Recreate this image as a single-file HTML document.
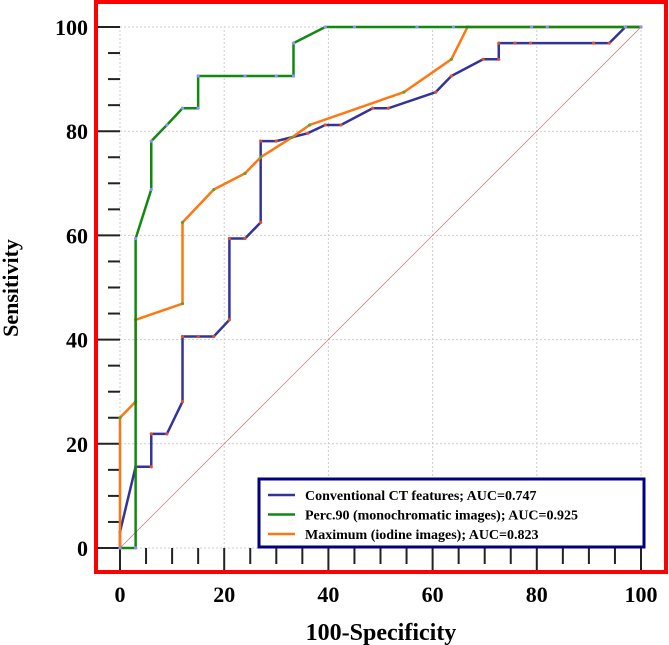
<!DOCTYPE html>
<html><head><meta charset="utf-8"><style>
body{margin:0;background:#fff}
svg{display:block;font-family:"Liberation Serif",serif;font-weight:bold}
</style></head><body>
<svg id="c" width="669" height="645"></svg>
<script>
const xTicks=[0,20,40,60,80,100];
const yTicks=[0,20,40,60,80,100];
const blueX=[0,0,3,6,6,9,12,12,15,18,21,21,24,27,27,30,36,39.4,42.4,48.5,51.5,60.6,63.6,69.7,72.7,72.7,75.8,78.8,90.9,93.9,97,100];
const blueY=[0,3.1,15.6,15.6,21.9,21.9,28.1,40.6,40.6,40.6,43.8,59.4,59.4,62.5,78.1,78.1,79.6,81.2,81.2,84.4,84.4,87.5,90.6,93.8,93.8,96.9,96.9,96.9,96.9,96.9,100,100];
const greenX=[0,3,3,6,6,9,12,15,15,24,30,33.3,33.3,39.4,45,57,64,79,82,97,100];
const greenY=[0,0,59.4,68.8,78.1,81.2,84.4,84.4,90.6,90.6,90.6,90.6,96.9,100,100,100,100,100,100,100,100];
const orangeX=[0,0,3,3,12,12,18,24,27,33,36.4,54.5,63.6,66.7,100];
const orangeY=[0,25,28.1,43.8,46.9,62.5,68.8,71.9,75,78.8,81.2,87.5,93.8,100,100];
const legendLabels=["Conventional CT features; AUC=0.747","Perc.90 (monochromatic images); AUC=0.925","Maximum (iodine images); AUC=0.823"];
const colors=["#333399","#118811","#ff7711"];
const X=v=>120+v*5.21, Y=v=>548-v*5.21;
const s=document.getElementById('c');const NS='http://www.w3.org/2000/svg';
function mk(t,a,p){const e=document.createElementNS(NS,t);for(const k in a)e.setAttribute(k,a[k]);(p||s).appendChild(e);return e;}
for(const t of xTicks){const g=mk('line',{x1:X(t),x2:X(t),y1:Y(0),y2:Y(100),stroke:'#ccc','stroke-dasharray':'2,2'});

}
for(const t of yTicks){const g=mk('line',{x1:X(0),x2:X(100),y1:Y(t),y2:Y(t),stroke:'#ccc','stroke-dasharray':'2,2'});

}
for(let v=0;v<=100;v+=5){const maj=v%20===0;
const a=mk('line',{x1:maj?97:108,x2:120,y1:Y(v),y2:Y(v),stroke:'#222','stroke-width':2});


const b=mk('line',{x1:X(v),x2:X(v),y1:548,y2:maj?571:564,stroke:'#222','stroke-width':2});

}
for(const t of yTicks){const e=mk('text',{x:88,y:Y(t)+8,'text-anchor':'end','font-size':22});e.textContent=t;

}
for(const t of xTicks){const e=mk('text',{x:X(t),y:602,'text-anchor':'middle','font-size':22});e.textContent=t;

}
const d=mk('line',{x1:X(0),y1:Y(0),x2:X(100),y2:Y(100),stroke:'#c88','stroke-width':0.8});


function series(xs,ys,col,name,dot){
const p=mk('polyline',{points:xs.map((x,i)=>X(x)+','+Y(ys[i])).join(' '),fill:'none',stroke:col,'stroke-width':2.5});


xs.forEach((x,i)=>{const c=mk('circle',{cx:X(x),cy:Y(ys[i]),r:1.6,fill:dot});

});}
series(blueX,blueY,colors[0],'conventional-ct-curve','#e05030');
series(orangeX,orangeY,colors[2],'maximum-iodine-curve','#60a030');
series(greenX,greenY,colors[1],'perc90-curve','#9090ff');
const f=mk('rect',{x:96,y:2,width:570,height:570,fill:'none',stroke:'#ff0000','stroke-width':4});


const lg=mk('rect',{x:259,y:479,width:385,height:68,fill:'#fff',stroke:'#000080','stroke-width':3});


legendLabels.forEach((l,i)=>{const yy=495+i*19.5;
const ln=mk('line',{x1:268,x2:295,y1:yy,y2:yy,stroke:colors[i],'stroke-width':2.5});


const t=mk('text',{x:305,y:yy+5,'font-size':14});t.textContent=l;

});
const xt=mk('text',{x:381,y:640,'text-anchor':'middle','font-size':24});xt.textContent='100-Specificity';


const yt=mk('text',{x:0,y:0,'text-anchor':'middle','font-size':22,transform:'translate(18,288) rotate(-90)'});yt.textContent='Sensitivity';


</script>
</body></html>
